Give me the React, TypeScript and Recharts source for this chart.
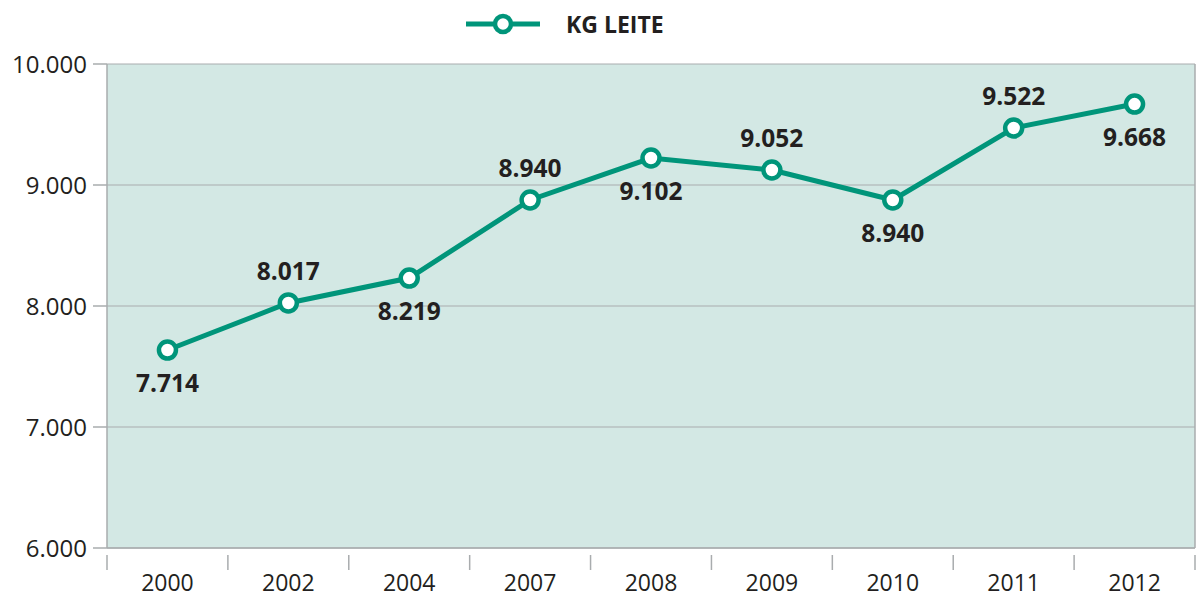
import {
  CartesianGrid,
  ComposedChart,
  LabelList,
  Line,
  XAxis,
  YAxis,
} from 'recharts';

const years = ['2000', '2002', '2004', '2007', '2008', '2009', '2010', '2011', '2012'];
// plotted positions
const kgLeite = [7636, 8025, 8231, 8876, 9223, 9124, 8876, 9471, 9669];
// printed value labels
const valueLabels = ['7.714', '8.017', '8.219', '8.940', '9.102', '9.052', '8.940', '9.522', '9.668'];
const labelBelow = [true, false, true, false, true, false, true, false, true];
const yTicks = [6000, 7000, 8000, 9000, 10000];

const LINE_COLOR = '#00957a';
const PLOT_FILL = '#d3e8e4';
const GRID_COLOR = '#a9acae';
const TEXT_COLOR = '#231f20';
const TICK_FONT = '"Open Sans", "Liberation Sans", sans-serif';

const data = years.map((year, i) => ({
  year,
  value: kgLeite[i],
  label: valueLabels[i],
  below: labelBelow[i],
}));

const formatThousands = (v: number) => String(v).replace(/\B(?=(\d{3})+(?!\d))/g, '.');

const YearTick = (props: any) => {
  const { x, y, payload, index } = props;
  const half = payload?.offset || 60.4;
  return (
    <g>
      <line x1={x - half} x2={x - half} y1={y - 1} y2={y + 14} stroke={GRID_COLOR} strokeWidth={1.5} />
      {index === years.length - 1 && (
        <line x1={x + half} x2={x + half} y1={y - 1} y2={y + 14} stroke={GRID_COLOR} strokeWidth={1.5} />
      )}
      <text x={x} y={y + 35} textAnchor="middle" fill={TEXT_COLOR} fontSize={23} fontFamily={TICK_FONT}>
        {payload.value}
      </text>
    </g>
  );
};

const ValueLabel = (props: any) => {
  const { x, y, index } = props;
  const below = labelBelow[index];
  return (
    <text
      x={x}
      y={below ? y + 42 : y - 23}
      textAnchor="middle"
      fill={TEXT_COLOR}
      fontSize={24.5}
      fontWeight={700}
      fontFamily={TICK_FONT}
    >
      {valueLabels[index]}
    </text>
  );
};

const Dot = (props: any) => {
  const { cx, cy } = props;
  return <circle cx={cx} cy={cy} r={8.5} fill="#ffffff" stroke={LINE_COLOR} strokeWidth={4.5} />;
};

export default function App() {
  return (
    <div style={{ position: 'absolute', left: 0, top: 0, width: 1197, height: 597, background: '#fff' }}>
      <div style={{ position: 'absolute', left: 464, top: 7, height: 34, display: 'flex', alignItems: 'center' }}>
        <svg width={80} height={34}>
          <line x1={2} x2={76} y1={17} y2={17} stroke={LINE_COLOR} strokeWidth={5} />
          <circle cx={39} cy={17} r={8} fill="#fff" stroke={LINE_COLOR} strokeWidth={4.5} />
        </svg>
        <span
          style={{
            marginLeft: 22,
            fontFamily: TICK_FONT,
            fontWeight: 700,
            fontSize: 23,
            color: TEXT_COLOR,
          }}
        >
          KG LEITE
        </span>
      </div>
      <ComposedChart
        width={1197}
        height={597}
        data={data}
        margin={{ top: 64, right: 0, bottom: 0, left: 0 }}
      >
        <CartesianGrid vertical={false} fill={PLOT_FILL} stroke={GRID_COLOR} strokeWidth={1} />
        <XAxis
          dataKey="year"
          scale="band"
          height={49}
          axisLine={{ stroke: GRID_COLOR, strokeWidth: 1.5 }}
          tickLine={false}
          tick={<YearTick />}
          interval={0}
        />
        <YAxis
          domain={[6000, 10000]}
          ticks={yTicks}
          width={107}
          tickFormatter={formatThousands}
          tickSize={14}
          tickMargin={6}
          axisLine={{ stroke: GRID_COLOR, strokeWidth: 1.5 }}
          tickLine={{ stroke: GRID_COLOR, strokeWidth: 1.5 }}
          tick={{ fill: TEXT_COLOR, fontSize: 24, fontFamily: TICK_FONT }}
        />
        <YAxis
          yAxisId="right"
          orientation="right"
          width={2}
          domain={[6000, 10000]}
          tick={false}
          tickLine={false}
          axisLine={{ stroke: GRID_COLOR, strokeWidth: 1.5 }}
        />
        <Line
          dataKey="value"
          stroke={LINE_COLOR}
          strokeWidth={5}
          dot={<Dot />}
          activeDot={false}
          isAnimationActive={false}
        >
          <LabelList dataKey="label" content={<ValueLabel />} />
        </Line>
      </ComposedChart>
    </div>
  );
}
